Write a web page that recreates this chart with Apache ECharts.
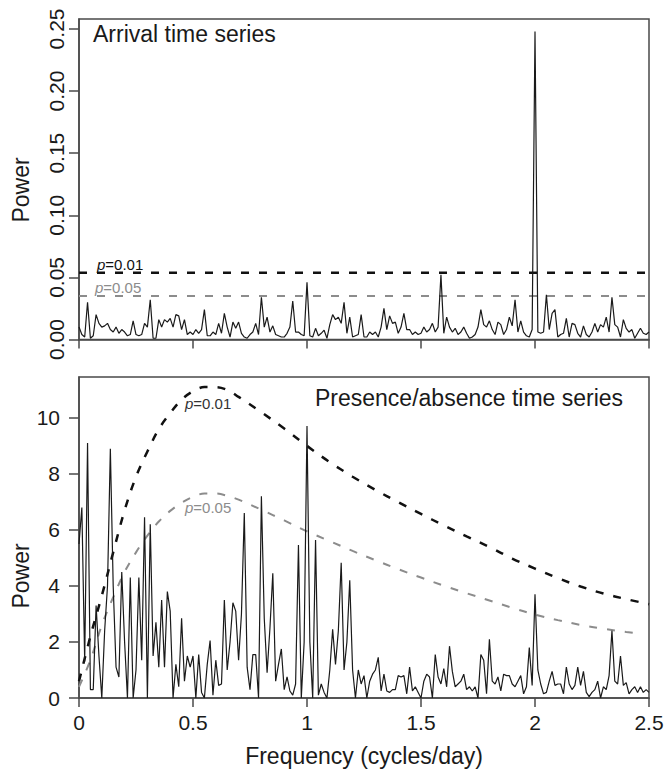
<!DOCTYPE html>
<html>
<head>
<meta charset="utf-8">
<script src="https://cdn.jsdelivr.net/npm/echarts@6/dist/echarts.min.js"></script>
<style>
html,body{margin:0;padding:0;background:#fff;}
#chart{width:667px;height:773px;}
</style>
</head>
<body>
<div id="chart"></div>
<script>
// ---------- data ----------
const freqStep = 0.0125; // periodogram frequency grid (cycles/day)
const xTicks = [0, 0.5, 1, 1.5, 2, 2.5];
const arrivalTicks = [0, 0.05, 0.10, 0.15, 0.20, 0.25];
const presenceTicks = [0, 2, 4, 6, 8, 10];

const arrivalPower = [
  0.010,0.004,0.002,0.030,0.001,0.003,0.020,0.013,0.010,0.011,
  0.013,0.008,0.006,0.010,0.005,0.008,0.006,0.003,0.004,0.015,
  0.004,0.003,0.004,0.013,0.010,0.032,0.001,0.001,0.016,0.010,
  0.016,0.014,0.017,0.010,0.020,0.019,0.008,0.016,0.004,0.006,
  0.004,0.008,0.005,0.008,0.024,0.003,0.003,0.006,0.004,0.013,
  0.005,0.021,0.010,0.002,0.014,0.009,0.014,0.005,0.002,0.001,
  0.004,0.006,0.013,0.004,0.034,0.010,0.018,0.006,0.011,0.004,
  0.003,0.002,0.002,0.005,0.010,0.031,0.006,0.006,0.004,0.003,
  0.046,0.003,0.002,0.009,0.003,0.005,0.0075,0.001,0.012,0.020,
  0.016,0.018,0.013,0.030,0.005,0.018,0.002,0.003,0.004,0.020,
  0.002,0.002,0.006,0.004,0.006,0.002,0.010,0.025,0.008,0.019,
  0.013,0.014,0.005,0.010,0.021,0.008,0.008,0.004,0.006,0.004,
  0.005,0.010,0.006,0.008,0.013,0.006,0.010,0.052,0.005,0.018,
  0.010,0.006,0.009,0.004,0.006,0.010,0.005,0.001,0.002,0.004,
  0.010,0.024,0.012,0.010,0.015,0.008,0.004,0.014,0.012,0.004,
  0.008,0.018,0.011,0.032,0.006,0.015,0.006,0.003,0.002,0.008,
  0.248,0.006,0.005,0.006,0.036,0.008,0.021,0.024,0.002,0.004,
  0.005,0.017,0.002,0.013,0.012,0.005,0.002,0.011,0.004,0.002,
  0.006,0.013,0.006,0.012,0.010,0.018,0.006,0.034,0.012,0.010,
  0.002,0.016,0.009,0.006,0.008,0.001,0.005,0.009,0.005,0.004,
  0.006
];
const arrivalP01 = 0.0538;
const arrivalP05 = 0.035;

const presencePower = [
  5.5,6.8,1.3,9.1,0.3,0.3,3.3,1.5,0.0,2.4,
  4.0,8.9,4.0,1.1,0.75,4.5,2.0,0.0,4.3,0.0,
  1.0,4.3,1.35,6.45,0.0,6.2,1.5,2.7,1.1,3.5,
  1.1,3.8,3.1,0.0,1.2,0.4,2.85,0.6,1.5,1.1,
  1.5,0.0,1.55,0.2,0.0,1.2,2.05,0.1,1.35,0.45,
  0.5,3.5,1.0,2.0,3.4,3.1,1.35,3.0,6.6,1.1,
  0.3,1.55,1.55,0.0,7.2,2.85,0.9,2.5,4.45,0.6,
  1.2,1.75,0.3,0.75,0.25,0.1,0.5,5.46,0.0,2.0,
  9.71,2.0,0.0,5.64,0.1,0.5,0.2,0.0,1.0,2.45,
  1.2,2.4,4.83,1.0,2.0,4.2,1.0,0.0,1.0,0.5,
  0.8,0.0,0.6,0.85,1.0,1.45,0.25,0.85,0.25,0.2,
  0.3,0.3,0.8,0.75,0.8,0.15,1.1,0.25,0.4,0.2,
  0.0,0.6,0.85,0.75,0.0,1.55,0.75,0.5,1.05,0.4,
  1.85,0.95,0.4,0.5,0.6,0.85,0.3,0.4,0.25,0.4,
  0.0,1.55,1.35,0.15,2.1,0.6,0.5,0.75,0.25,0.85,
  0.8,0.8,0.5,0.4,0.6,0.8,0.15,0.4,1.8,0.45,
  3.7,1.0,0.5,0.15,0.2,0.6,0.95,0.45,0.5,0.5,
  0.15,1.1,0.5,0.3,0.45,1.1,0.45,0.95,0.2,0.05,
  0.2,0.3,0.6,0.0,0.4,0.3,0.8,2.4,0.6,0.5,
  1.5,0.45,0.55,0.15,0.3,0.4,0.2,0.4,0.2,0.3,
  0.2
];

const p01Freq = [0,0.05,0.1,0.15,0.2,0.25,0.3,0.35,0.4,0.45,0.5,0.55,0.6,0.65,0.7,0.8,0.9,1.0,1.1,1.2,1.3,1.4,1.5,1.6,1.7,1.8,1.9,2.0,2.1,2.2,2.3,2.4,2.5];
const p01Power = [0.6,2.2,3.65,5.2,6.7,7.9,8.8,9.6,10.17,10.65,10.95,11.1,11.1,11.0,10.75,10.2,9.62,9.0,8.42,7.9,7.43,6.99,6.57,6.16,5.77,5.39,4.98,4.62,4.28,3.98,3.73,3.53,3.35];
const p05Freq = [0,0.05,0.1,0.15,0.2,0.25,0.3,0.35,0.4,0.45,0.5,0.55,0.6,0.65,0.7,0.8,0.9,1.0,1.1,1.2,1.3,1.4,1.5,1.6,1.7,1.8,1.9,2.0,2.1,2.2,2.3,2.4,2.45];
const p05Power = [0.4,1.35,2.6,3.6,4.5,5.2,5.8,6.3,6.68,6.97,7.18,7.3,7.3,7.22,7.08,6.72,6.34,5.95,5.6,5.25,4.92,4.6,4.3,4.01,3.74,3.48,3.22,2.98,2.78,2.61,2.47,2.36,2.31];

// ---------- build ----------
const toPairs = (arr) => arr.map((v, i) => [+(i * freqStep).toFixed(4), v]);
const zip = (xs, ys) => xs.map((x, i) => [x, ys[i]]);

const FONT = 'Liberation Sans, Arial, sans-serif';
const AX = '#4a4a4a';
const GRAY = '#8c8c8c';
const TXT = '#1a1a1a';

function xAxisCfg(gridIndex, showLabels) {
  return {
    type: 'value', gridIndex, min: 0, max: 2.5, interval: 0.5,
    axisLine: { show: true, lineStyle: { color: AX, width: 1.5 } },
    axisTick: { show: true, length: 9, lineStyle: { color: AX, width: 1.5 } },
    axisLabel: { show: showLabels, fontSize: 21, color: TXT, fontFamily: FONT, margin: 14 },
    splitLine: { show: false },
    name: showLabels ? 'Frequency (cycles/day)' : '',
    nameLocation: 'middle', nameGap: 46,
    nameTextStyle: { fontSize: 23, color: TXT, fontFamily: FONT }
  };
}

function pLabel(left, top, value, color) {
  return { type: 'text', left, top, z: 10,
    style: { text: '{i|p}=' + value, fontSize: 15, fontFamily: FONT, fill: color,
      rich: { i: { fontStyle: 'italic', fontSize: 15, fontFamily: FONT, fill: color } } } };
}

const chart = echarts.init(document.getElementById('chart'), null, { renderer: 'svg' });
chart.setOption({
  animation: false,
  backgroundColor: '#fff',
  grid: [
    { left: 79, right: 18, top: 19, height: 320.5, show: true, borderColor: AX, borderWidth: 1.5 },
    { left: 79, right: 18, top: 377, height: 321, show: true, borderColor: AX, borderWidth: 1.5 }
  ],
  xAxis: [xAxisCfg(0, false), xAxisCfg(1, true)],
  yAxis: [
    {
      type: 'value', gridIndex: 0, min: 0, max: 0.258,
      axisLine: { show: true, lineStyle: { color: AX, width: 1.5 } },
      axisTick: { show: true, length: 10, customValues: arrivalTicks, lineStyle: { color: AX, width: 1.5 } },
      axisLabel: { show: true, rotate: 90, customValues: arrivalTicks, fontSize: 21, color: TXT, fontFamily: FONT, margin: 12,
        formatter: (v) => v.toFixed(2) },
      splitLine: { show: false }
    },
    {
      type: 'value', gridIndex: 1, min: 0, max: 11.46,
      axisLine: { show: true, lineStyle: { color: AX, width: 1.5 } },
      axisTick: { show: true, length: 10, customValues: presenceTicks, lineStyle: { color: AX, width: 1.5 } },
      axisLabel: { show: true, customValues: presenceTicks, fontSize: 21, color: TXT, fontFamily: FONT, margin: 19 },
      splitLine: { show: false }
    }
  ],
  series: [
    { type: 'line', xAxisIndex: 0, yAxisIndex: 0, data: zip([0, 2.5], [arrivalP05, arrivalP05]), symbol: 'none',
      lineStyle: { color: GRAY, width: 2, type: [8, 10] }, z: 2 },
    { type: 'line', xAxisIndex: 0, yAxisIndex: 0, data: zip([0, 2.5], [arrivalP01, arrivalP01]), symbol: 'none',
      lineStyle: { color: '#111', width: 2.5, type: [8, 10] }, z: 2 },
    { type: 'line', xAxisIndex: 0, yAxisIndex: 0, data: toPairs(arrivalPower), symbol: 'none',
      lineStyle: { color: '#1a1a1a', width: 1.2 }, z: 3 },
    { type: 'line', xAxisIndex: 1, yAxisIndex: 1, data: zip(p05Freq, p05Power), symbol: 'none', smooth: 0.35,
      lineStyle: { color: GRAY, width: 2, type: [8, 10] }, z: 2 },
    { type: 'line', xAxisIndex: 1, yAxisIndex: 1, data: zip(p01Freq, p01Power), symbol: 'none', smooth: 0.35,
      lineStyle: { color: '#111', width: 2.5, type: [8, 10] }, z: 2 },
    { type: 'line', xAxisIndex: 1, yAxisIndex: 1, data: toPairs(presencePower), symbol: 'none',
      lineStyle: { color: '#1a1a1a', width: 1.2 }, z: 3 }
  ],
  graphic: [
    { type: 'text', left: 93, top: 22, z: 10,
      style: { text: 'Arrival time series', fontSize: 23, fontFamily: FONT, fill: TXT } },
    { type: 'text', left: 315, top: 386, z: 10,
      style: { text: 'Presence/absence time series', fontSize: 23, fontFamily: FONT, fill: TXT } },
    { type: 'text', x: 21, y: 190, rotation: Math.PI / 2, z: 10,
      style: { text: 'Power', fontSize: 23, fontFamily: FONT, fill: TXT, align: 'center', verticalAlign: 'middle' } },
    { type: 'text', x: 21, y: 576, rotation: Math.PI / 2, z: 10,
      style: { text: 'Power', fontSize: 23, fontFamily: FONT, fill: TXT, align: 'center', verticalAlign: 'middle' } },
    pLabel(97, 257, '0.01', '#111'),
    pLabel(95, 280, '0.05', GRAY),
    pLabel(185, 396, '0.01', '#333'),
    pLabel(185, 500, '0.05', GRAY)
  ]
});
</script>
</body>
</html>
